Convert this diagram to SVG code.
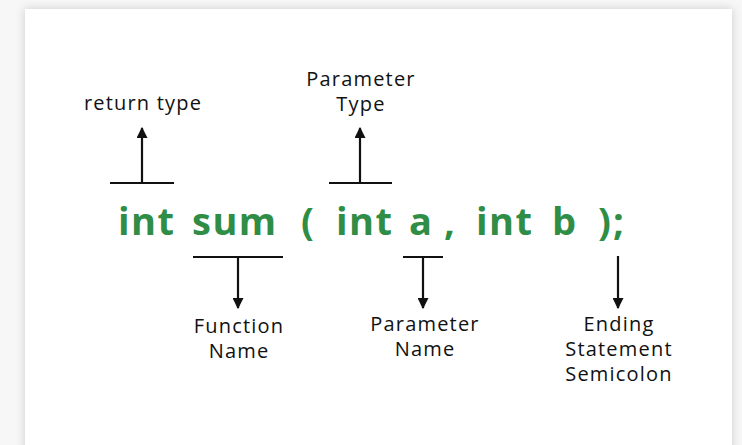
<svg xmlns="http://www.w3.org/2000/svg" width="742" height="445" viewBox="0 0 742 445">
  <defs>
    <filter id="shadow" x="-5%" y="-5%" width="110%" height="110%">
      <feDropShadow dx="0" dy="0" stdDeviation="5" flood-color="#000" flood-opacity="0.18"/>
    </filter>
    <marker id="arrow" viewBox="0 0 10 10" refX="9" refY="5" markerWidth="11" markerHeight="11" markerUnits="userSpaceOnUse" orient="auto">
      <path d="M0,0 L10,5 L0,10 z" fill="#111"/>
    </marker>
    <style>
      .lbl { font-family: "Open Sans", "Liberation Sans", sans-serif; font-size: 20px; letter-spacing: 1.2px; fill: #111; text-anchor: middle; }
      .code { font-family: "Open Sans", "Liberation Sans", sans-serif; font-size: 38px; font-weight: 700; letter-spacing: 1.5px; fill: #2f8d46; }
      .bar { stroke: #111; stroke-width: 2.2; fill: none; }
      .arr { stroke: #111; stroke-width: 2.2; fill: none; marker-end: url(#arrow); }
    </style>
  </defs>
  <rect width="742" height="445" fill="#f7f7f7"/>
  <rect x="25" y="9" width="707" height="460" fill="#ffffff" filter="url(#shadow)"/>

  <g id="code">
    <text class="code" x="118" y="235">int</text>
    <text class="code" x="192" y="235">sum</text>
    <text class="code" x="301" y="235">(</text>
    <text class="code" x="336" y="235">int</text>
    <text class="code" x="409" y="235">a</text>
    <text class="code" x="444" y="235">,</text>
    <text class="code" x="476" y="235">int</text>
    <text class="code" x="552" y="235">b</text>
    <text class="code" x="598" y="235">)</text>
    <text class="code" x="613" y="235">;</text>
  </g>

  <g id="return-type">
    <text class="lbl" x="143" y="110">return type</text>
  </g>
  <g id="parameter-type">
    <text class="lbl" x="361" y="86">Parameter</text>
    <text class="lbl" x="361" y="111">Type</text>
  </g>
  <g id="function-name">
    <text class="lbl" x="239" y="333">Function</text>
    <text class="lbl" x="239" y="358">Name</text>
  </g>
  <g id="parameter-name">
    <text class="lbl" x="425" y="331">Parameter</text>
    <text class="lbl" x="425" y="356">Name</text>
  </g>
  <g id="ending-statement">
    <text class="lbl" x="619" y="331">Ending</text>
    <text class="lbl" x="619" y="356">Statement</text>
    <text class="lbl" x="619" y="381">Semicolon</text>
  </g>

  <g id="connectors">
    <line class="bar" x1="110" y1="183" x2="174" y2="183"/>
    <line class="arr" x1="142" y1="183" x2="142" y2="128"/>
    <line class="bar" x1="329" y1="183" x2="392" y2="183"/>
    <line class="arr" x1="360" y1="183" x2="360" y2="128"/>
    <line class="bar" x1="193" y1="257" x2="283" y2="257"/>
    <line class="arr" x1="238" y1="257" x2="238" y2="308"/>
    <line class="bar" x1="403" y1="257" x2="443" y2="257"/>
    <line class="arr" x1="423" y1="257" x2="423" y2="308"/>
    <line class="arr" x1="618" y1="256" x2="618" y2="308"/>
  </g>
</svg>
